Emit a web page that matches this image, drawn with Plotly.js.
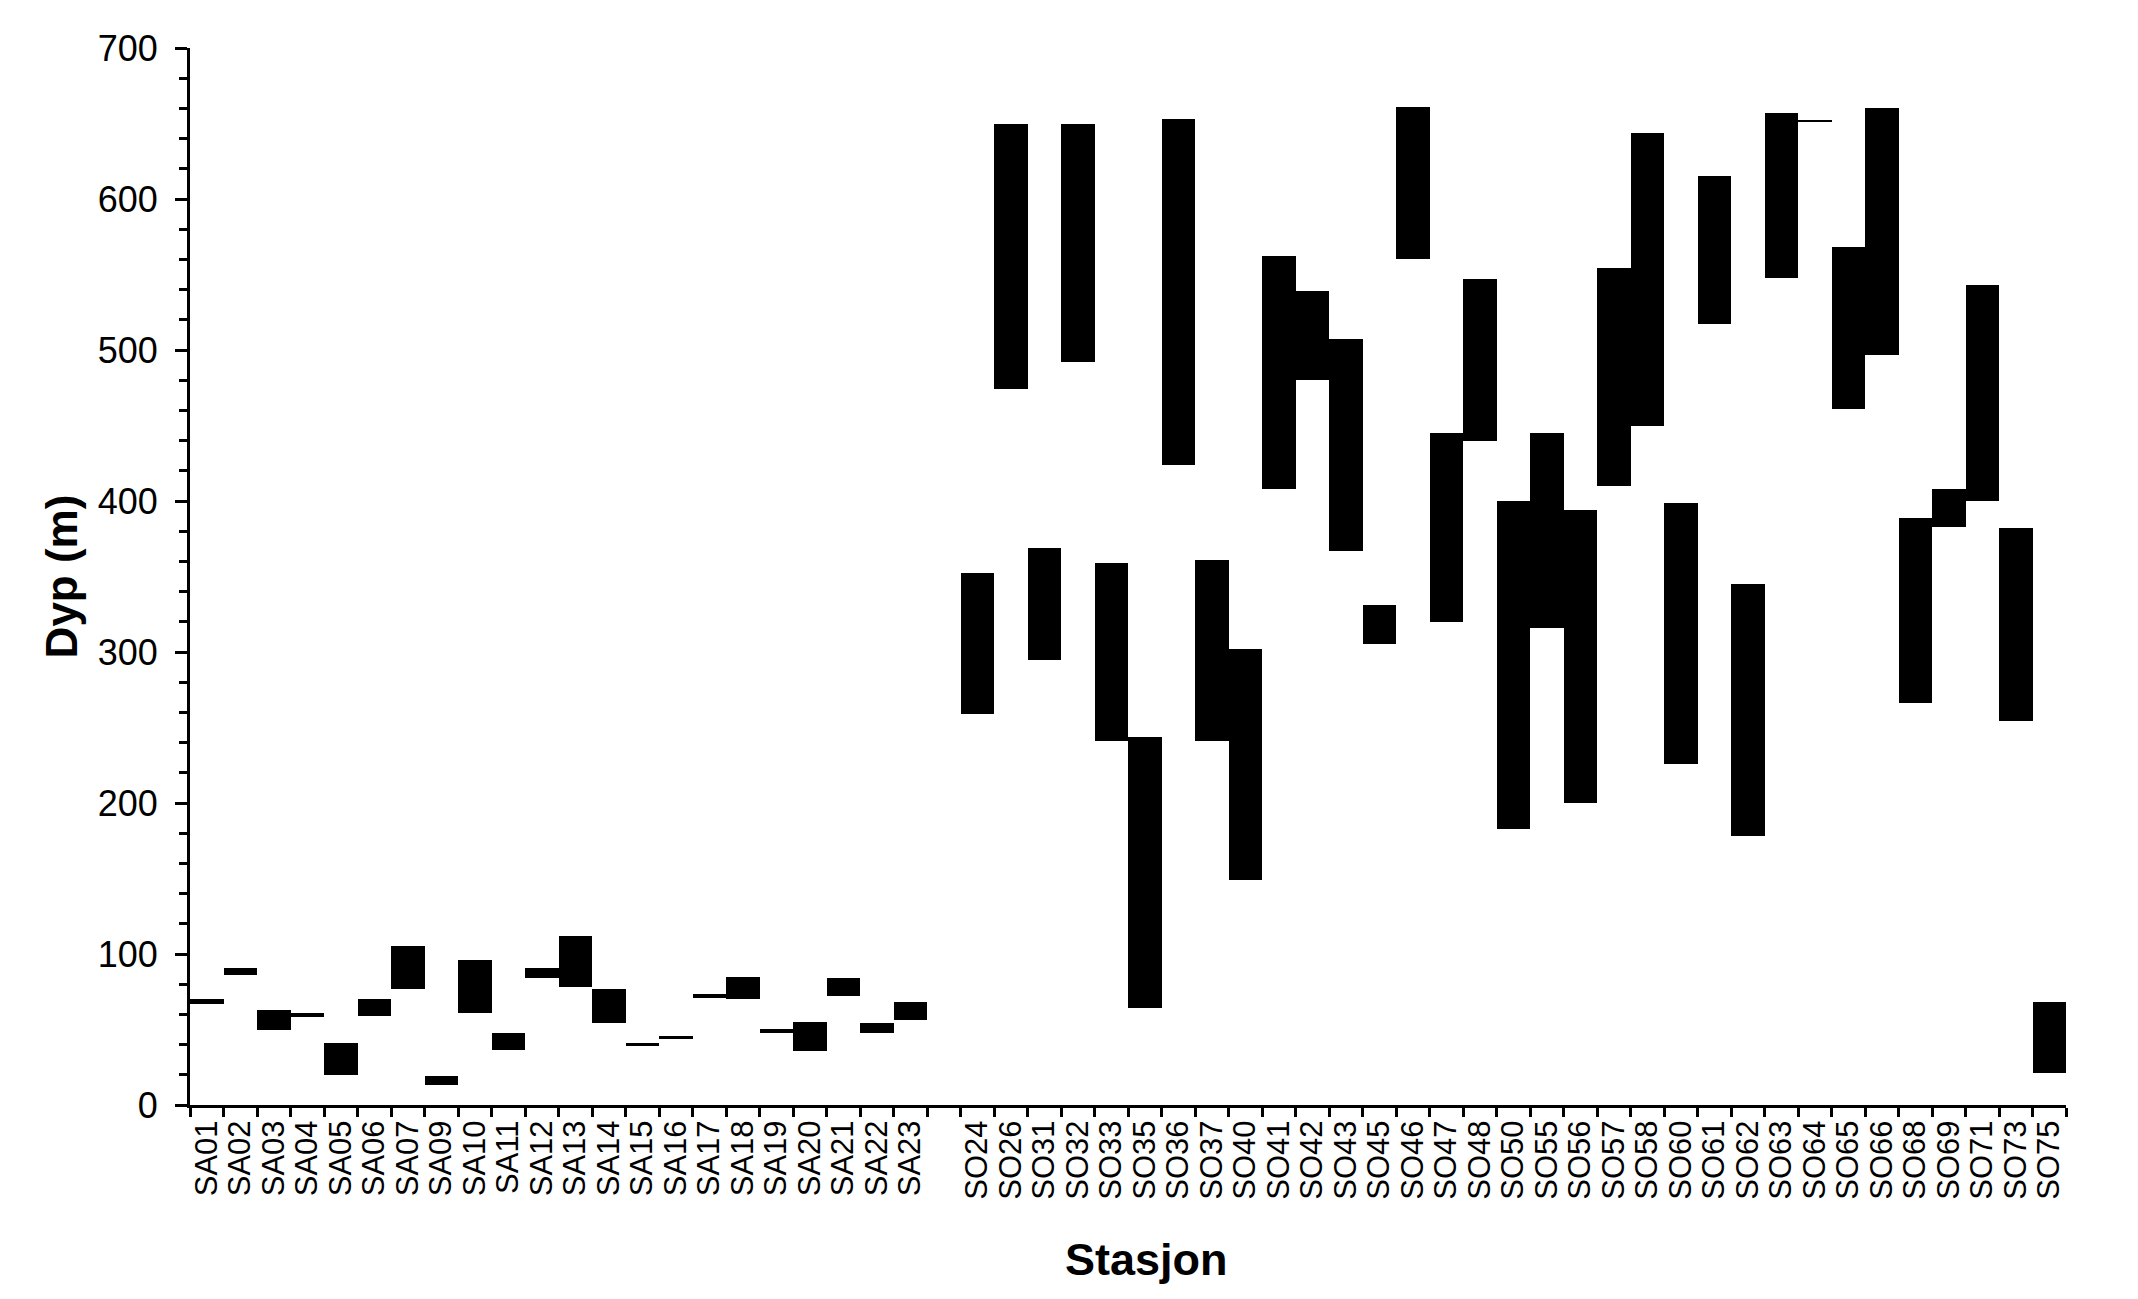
<!DOCTYPE html>
<html>
<head>
<meta charset="utf-8">
<script src="https://cdn.plot.ly/plotly-3.0.1.min.js"></script>
<style>
  html, body { margin: 0; padding: 0; background: #fff; }
  #chart { width: 2138px; height: 1299px; }
</style>
</head>
<body>
<div id="chart"></div>
<script>
// stations along the x axis, ' ' is the empty slot between SA and SO
var stations = [
  'SA01', 'SA02', 'SA03', 'SA04', 'SA05', 'SA06', 'SA07', 'SA09', 'SA10', 'SA11', 'SA12',
  'SA13', 'SA14', 'SA15', 'SA16', 'SA17', 'SA18', 'SA19', 'SA20', 'SA21', 'SA22', 'SA23',
  ' ',
  'SO24', 'SO26', 'SO31', 'SO32', 'SO33', 'SO35', 'SO36', 'SO37', 'SO40', 'SO41', 'SO42',
  'SO43', 'SO45', 'SO46', 'SO47', 'SO48', 'SO50', 'SO55', 'SO56', 'SO57', 'SO58', 'SO60',
  'SO61', 'SO62', 'SO63', 'SO64', 'SO65', 'SO66', 'SO68', 'SO69', 'SO71', 'SO73', 'SO75'
];

// shallowest depth (m)
var depthMin = [
  67, 86, 50, 58.5, 20, 59, 77, 13, 61, 36.5, 84,
  78, 54, 39, 44, 71, 70, 48, 36, 72, 48, 56,
  null,
  259, 474, 295, 492, 241, 64, 424, 241, 149, 408, 480,
  367, 305, 560, 320, 440, 183, 316, 200, 410, 450, 226,
  517, 178, 548, 651.5, 461, 497, 266, 383, 400, 254, 21
];

// deepest depth (m)
var depthMax = [
  70, 91, 63, 61, 41, 70, 105, 19, 96, 47.5, 91,
  112, 77, 41, 46, 73.5, 85, 50.5, 55, 84, 54, 68,
  null,
  352, 650, 369, 650, 359, 244, 653, 361, 302, 562, 539,
  507, 331, 661, 445, 547, 400, 445, 394, 554, 644, 399,
  615, 345, 657, 652.5, 568, 660, 389, 408, 543, 382, 68
];

var span = depthMax.map(function(v, i) {
  return v === null ? null : v - depthMin[i];
});

var data = [{
  type: 'bar',
  x: stations,
  y: span,
  base: depthMin,
  width: 1,
  marker: { color: '#000000', line: { width: 0 } },
  hoverinfo: 'x+y'
}];

var nCat = stations.length;

var layout = {
  width: 2138,
  height: 1299,
  margin: { l: 190, r: 72, t: 48, b: 194 },
  paper_bgcolor: '#ffffff',
  plot_bgcolor: '#ffffff',
  font: { family: 'Liberation Sans, Arial, sans-serif', color: '#000000' },
  showlegend: false,
  bargap: 0,
  xaxis: {
    type: 'category',
    categoryorder: 'array',
    categoryarray: stations,
    range: [-0.5, nCat - 0.5],
    tickmode: 'linear',
    dtick: 1,
    tickson: 'boundaries',
    ticks: 'outside',
    ticklen: 9,
    tickwidth: 3,
    tickcolor: '#000000',
    tickangle: -90,
    tickfont: { size: 31 },
    showline: true,
    linewidth: 3,
    linecolor: '#000000',
    showgrid: false,
    zeroline: false
  },
  // second x axis only to draw the inner half of the crossing ticks
  xaxis2: {
    overlaying: 'x',
    type: 'linear',
    range: [-0.5, nCat - 0.5],
    tick0: -0.5,
    dtick: 1,
    ticks: 'inside',
    ticklen: 9,
    tickwidth: 3,
    tickcolor: '#000000',
    showticklabels: false,
    showline: false,
    showgrid: false,
    zeroline: false
  },
  yaxis: {
    range: [0, 700],
    dtick: 100,
    ticks: 'outside',
    ticklen: 12,
    tickwidth: 3,
    tickcolor: '#000000',
    minor: { dtick: 20, ticks: 'outside', ticklen: 8, tickwidth: 3, tickcolor: '#000000' },
    tickfont: { size: 36 },
    ticklabelstandoff: 10,
    showline: true,
    linewidth: 3,
    linecolor: '#000000',
    showgrid: false,
    zeroline: false,
    title: {
      text: 'Dyp (m)',
      font: { size: 44, weight: 'bold' },
      standoff: 7
    }
  },
  yaxis2: {
    overlaying: 'y',
    range: [0, 700],
    dtick: 100,
    ticks: 'inside',
    ticklen: 12,
    tickwidth: 3,
    tickcolor: '#000000',
    showticklabels: false,
    showline: false,
    showgrid: false,
    zeroline: false
  },
  // x title sits a little right of the plot centre in the original
  annotations: [{
    text: 'Stasjon',
    xref: 'paper',
    yref: 'paper',
    x: 0.51,
    y: 0,
    xanchor: 'center',
    yanchor: 'top',
    yshift: -127,
    showarrow: false,
    font: { size: 45, weight: 'bold' }
  }]
};

Plotly.newPlot('chart', data, layout, { displayModeBar: false, responsive: false });
</script>
</body>
</html>
